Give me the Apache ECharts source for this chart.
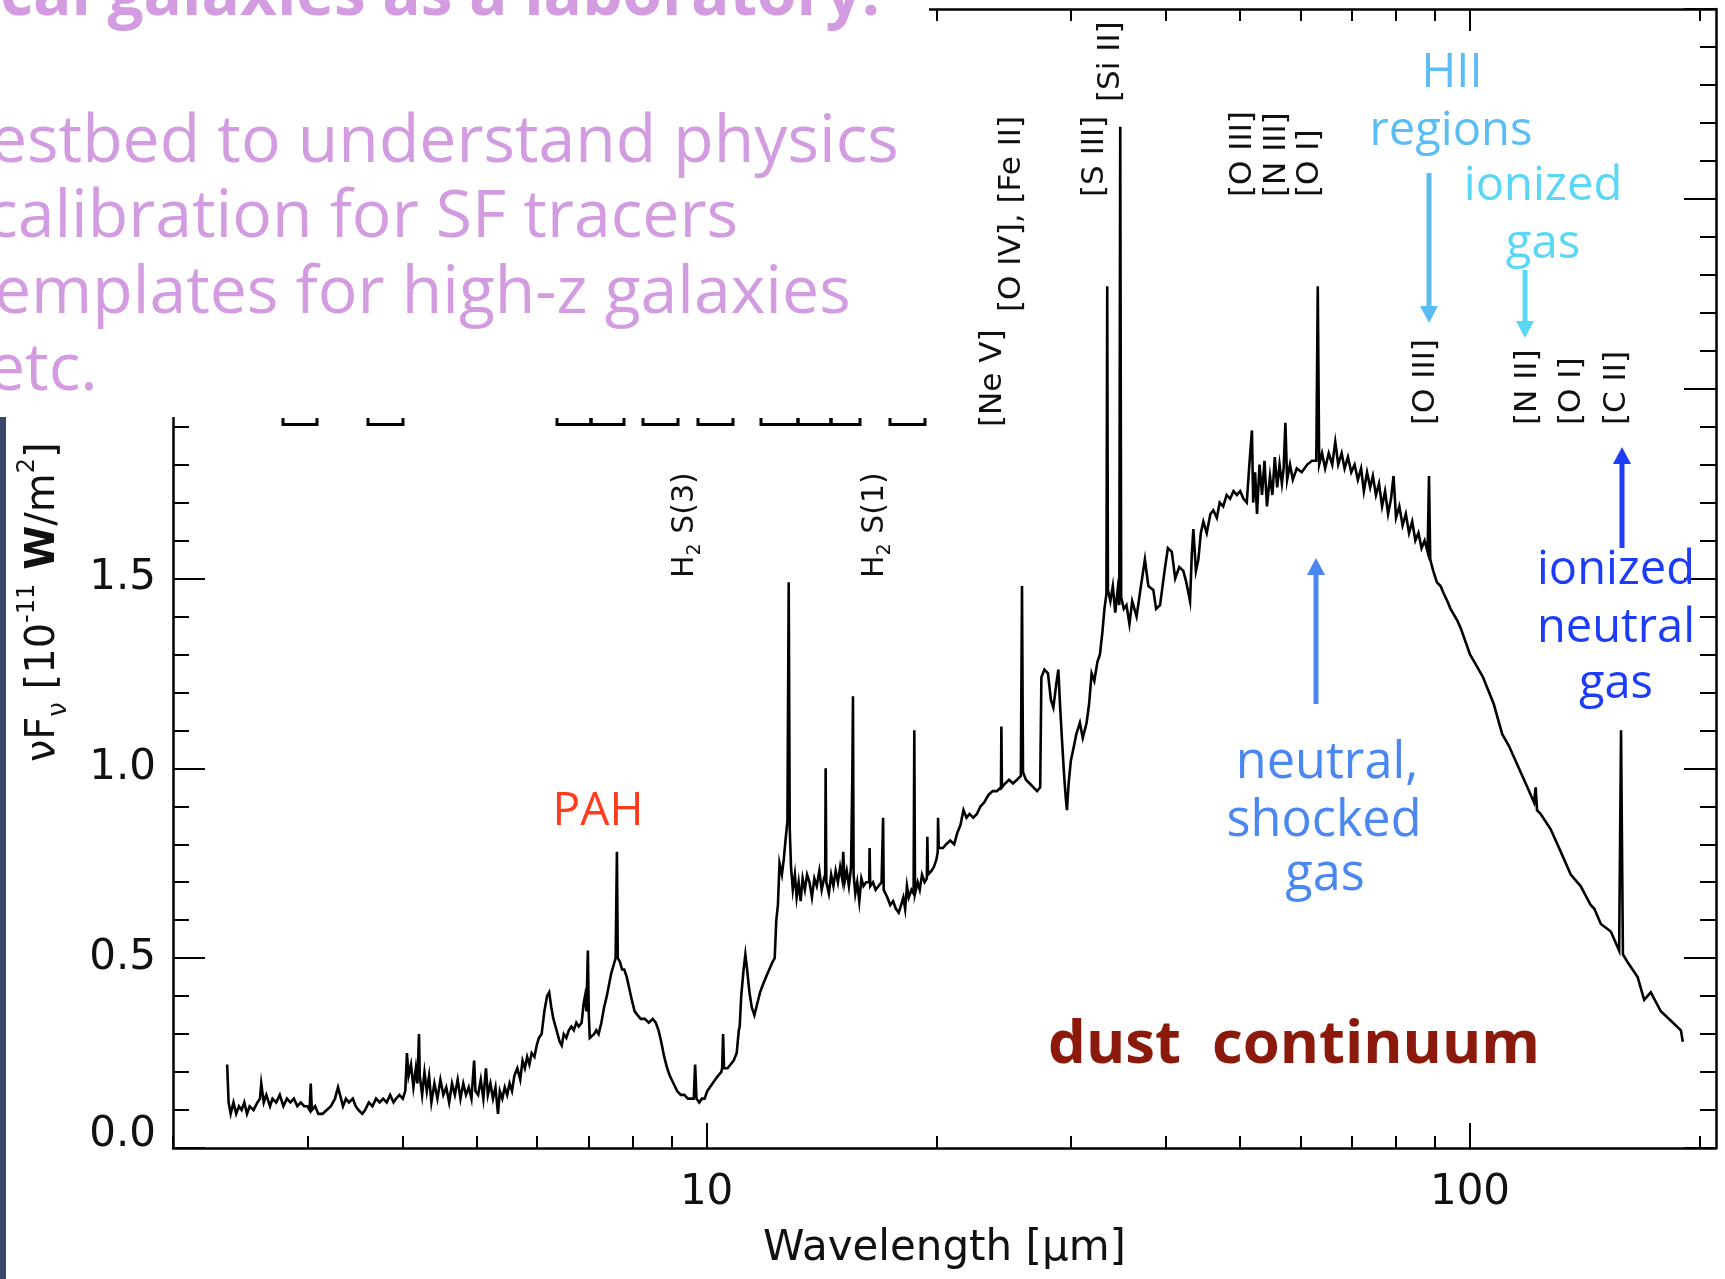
<!DOCTYPE html>
<html><head><meta charset="utf-8">
<script src="https://cdn.jsdelivr.net/npm/echarts@6/dist/echarts.min.js"></script>
<style>html,body{margin:0;padding:0;background:#fff}#c{width:1725px;height:1279px}</style>
</head><body><div id="c"></div>
<script>
// ---------------- DATA (wavelength [um], nuFnu [1e-11 W/m2]) ----------------
const nearIR = [[2.355,0.22],[2.365,0.12],[2.38,0.09],[2.40,0.12],[2.42,0.09],[2.44,0.11],[2.46,0.10],[2.48,0.12],[2.50,0.09],[2.52,0.11],[2.55,0.10],[2.58,0.12],[2.60,0.13],[2.61,0.17],[2.63,0.12],[2.65,0.14],[2.68,0.11],[2.70,0.13],[2.73,0.12],[2.76,0.14],[2.79,0.11],[2.82,0.13],[2.85,0.12],[2.88,0.13],[2.91,0.11],[2.94,0.12],[2.97,0.11],[3.00,0.11],[3.02,0.10],[3.03,0.17],[3.04,0.10],[3.07,0.11],[3.10,0.09],[3.14,0.09],[3.18,0.10],[3.22,0.11],[3.26,0.13],[3.29,0.16],[3.31,0.14],[3.34,0.11],[3.37,0.13],[3.40,0.12],[3.44,0.13],[3.47,0.11],[3.50,0.10],[3.54,0.09],[3.57,0.10],[3.61,0.12],[3.65,0.11],[3.69,0.13],[3.73,0.12],[3.77,0.13],[3.81,0.12],[3.85,0.14],[3.89,0.12],[3.92,0.13],[3.96,0.14],[4.00,0.13],[4.03,0.15]];
const midIRa = [[4.05,0.25],[4.07,0.19],[4.10,0.22],[4.13,0.16],[4.16,0.21],[4.18,0.17],[4.20,0.30],[4.21,0.19],[4.24,0.14],[4.27,0.20],[4.30,0.15],[4.33,0.19],[4.36,0.12],[4.40,0.17],[4.44,0.13],[4.48,0.18],[4.52,0.14],[4.56,0.16],[4.60,0.12],[4.64,0.17],[4.68,0.14],[4.72,0.18],[4.76,0.13],[4.80,0.17],[4.84,0.14],[4.88,0.16],[4.92,0.13],[4.96,0.23],[4.98,0.15],[5.02,0.14],[5.06,0.18],[5.10,0.13],[5.14,0.21],[5.17,0.14],[5.21,0.17],[5.25,0.13],[5.29,0.16],[5.33,0.09],[5.36,0.15],[5.40,0.13],[5.44,0.16],[5.48,0.14],[5.52,0.17],[5.56,0.15],[5.60,0.19],[5.65,0.21],[5.70,0.18],[5.74,0.23],[5.78,0.21],[5.82,0.24],[5.86,0.22],[5.90,0.25],[5.95,0.24],[5.99,0.27],[6.03,0.29],[6.08,0.30],[6.13,0.36],[6.18,0.40],[6.22,0.41],[6.26,0.37],[6.30,0.34],[6.34,0.32],[6.38,0.30],[6.42,0.28],[6.46,0.27],[6.50,0.30],[6.55,0.29],[6.60,0.31],[6.65,0.32],[6.70,0.31],[6.75,0.33],[6.80,0.32],[6.86,0.33],[6.90,0.38],[6.93,0.40],[6.96,0.36],[6.99,0.52],[7.01,0.35],[7.03,0.29],[7.07,0.29],[7.12,0.30],[7.17,0.31],[7.22,0.30],[7.28,0.33],[7.34,0.37],[7.40,0.40],[7.45,0.43],[7.50,0.46],[7.55,0.48],[7.60,0.50],[7.63,0.78],[7.65,0.50],[7.70,0.49],[7.75,0.47],[7.80,0.47],[7.86,0.45],[7.92,0.42],[7.98,0.39],[8.05,0.36],[8.12,0.35],[8.20,0.34],[8.30,0.34],[8.40,0.33],[8.50,0.34],[8.58,0.33],[8.65,0.31],[8.72,0.28],[8.80,0.24],[8.88,0.21],[8.95,0.19],[9.05,0.17],[9.15,0.15],[9.25,0.14],[9.35,0.14],[9.45,0.13],[9.55,0.13],[9.62,0.13],[9.66,0.22],[9.70,0.13],[9.78,0.12],[9.86,0.13],[9.94,0.13]];
const midIRb = [[10.02,0.15],[10.10,0.16],[10.18,0.17],[10.26,0.18],[10.35,0.19],[10.45,0.20],[10.48,0.21],[10.51,0.30],[10.54,0.21],[10.65,0.21],[10.75,0.22],[10.85,0.23],[10.95,0.25],[11.02,0.31],[11.05,0.32],[11.10,0.40],[11.18,0.47],[11.24,0.51],[11.30,0.47],[11.38,0.41],[11.46,0.37],[11.55,0.35],[11.65,0.38],[11.75,0.41],[11.85,0.43],[11.96,0.45],[12.08,0.47],[12.20,0.49],[12.28,0.50],[12.34,0.60],[12.40,0.64],[12.46,0.75],[12.55,0.72],[12.62,0.76],[12.70,0.82],[12.76,0.86],[12.81,1.49],[12.85,0.84],[12.90,0.74],[12.97,0.68],[13.05,0.72],[13.12,0.66],[13.20,0.70],[13.28,0.65],[13.36,0.71],[13.45,0.68],[13.54,0.72],[13.64,0.70],[13.74,0.66],[13.84,0.71],[13.94,0.69],[14.05,0.73],[14.15,0.68],[14.25,0.71],[14.30,0.72],[14.32,1.00],[14.35,0.70],[14.46,0.67],[14.56,0.72],[14.66,0.69],[14.76,0.73],[14.86,0.70],[14.96,0.74],[15.05,0.71],[15.10,0.78],[15.16,0.70],[15.26,0.73],[15.36,0.69],[15.46,0.74],[15.52,0.98],[15.55,1.19],[15.58,0.72],[15.66,0.67],[15.75,0.70],[15.85,0.65],[15.95,0.71],[16.05,0.69],[16.18,0.70],[16.33,0.70],[16.35,0.79],[16.38,0.69],[16.52,0.70],[16.65,0.68],[16.80,0.69],[16.95,0.70],[17.01,0.70],[17.03,0.87],[17.06,0.68],[17.25,0.66],[17.40,0.64],[17.55,0.65],[17.70,0.63],[17.85,0.62],[17.98,0.64],[18.10,0.66],[18.20,0.63],[18.30,0.69],[18.40,0.66],[18.55,0.68],[18.67,0.67],[18.71,1.10],[18.75,0.67],[18.90,0.70],[19.02,0.68],[19.15,0.72],[19.30,0.70],[19.43,0.71],[19.46,0.82],[19.50,0.72],[19.70,0.73],[19.85,0.74],[20.00,0.76],[20.08,0.78],[20.10,0.87],[20.14,0.79],[20.40,0.79],[20.60,0.80],[20.85,0.81],[21.10,0.80],[21.30,0.83],[21.50,0.85],[21.70,0.89],[21.90,0.87],[22.10,0.88],[22.35,0.87],[22.60,0.88],[22.85,0.90],[23.10,0.91],[23.40,0.93],[23.70,0.94],[24.00,0.94],[24.30,0.95],[24.33,1.11],[24.37,0.95],[24.60,0.96],[24.90,0.97],[25.20,0.96],[25.50,0.97],[25.80,0.98],[25.89,1.48],[25.97,0.99],[26.20,0.97],[26.50,0.96],[26.80,0.95],[27.10,0.94],[27.35,0.95],[27.45,1.24],[27.70,1.26],[28.00,1.25],[28.25,1.18],[28.46,1.16],[28.70,1.22],[28.89,1.26],[29.05,1.16],[29.20,1.08],[29.40,0.98],[29.55,0.92],[29.65,0.89],[29.80,0.96],[30.00,1.02],[30.22,1.05],[30.50,1.09],[30.83,1.12],[31.10,1.08],[31.46,1.12],[31.70,1.17],[31.94,1.25],[32.20,1.23],[32.50,1.28],[32.75,1.30],[33.00,1.36],[33.20,1.42],[33.40,1.46]];
const farIR = [[33.48,2.27],[33.55,1.47],[33.80,1.44],[34.05,1.48],[34.30,1.41],[34.55,1.47],[34.72,1.43],[34.82,2.69],[34.92,1.45],[35.20,1.42],[35.48,1.43],[35.80,1.38],[36.10,1.44],[36.58,1.40],[37.00,1.47],[37.51,1.55],[37.90,1.48],[38.47,1.47],[38.80,1.42],[39.26,1.43],[39.80,1.52],[40.20,1.58],[40.68,1.57],[41.10,1.50],[41.60,1.53],[42.12,1.52],[42.50,1.49],[42.98,1.44],[43.20,1.56],[43.41,1.63],[43.75,1.52],[44.07,1.55],[44.40,1.62],[44.74,1.65],[45.20,1.62],[45.70,1.67],[46.10,1.68],[46.60,1.66],[47.00,1.70],[47.50,1.69],[48.00,1.72],[48.50,1.71],[49.00,1.73],[49.50,1.72],[50.00,1.73],[50.50,1.71],[51.00,1.70],[51.40,1.80],[51.80,1.89],[52.00,1.70],[52.30,1.78],[52.60,1.67],[53.00,1.80],[53.40,1.72],[53.80,1.81],[54.20,1.69],[54.70,1.77],[55.10,1.72],[55.50,1.82],[55.90,1.74],[56.30,1.80],[56.70,1.75],[57.00,1.79],[57.30,1.91],[57.60,1.76],[58.10,1.80],[58.60,1.76],[59.30,1.79],[60.20,1.78],[61.20,1.80],[62.10,1.81],[62.90,1.81],[63.18,2.27],[63.45,1.80],[64.00,1.83],[64.60,1.79],[65.30,1.83],[66.00,1.80],[66.60,1.86],[67.20,1.80],[67.90,1.83],[68.50,1.79],[69.20,1.82],[69.90,1.78],[70.60,1.80],[71.30,1.76],[72.00,1.79],[72.60,1.73],[73.30,1.78],[74.00,1.74],[74.60,1.77],[75.30,1.72],[76.00,1.75],[76.70,1.69],[77.40,1.73],[78.10,1.67],[78.80,1.71],[79.40,1.77],[80.00,1.66],[80.80,1.69],[81.60,1.64],[82.40,1.67],[83.20,1.62],[84.00,1.65],[84.80,1.60],[85.60,1.62],[86.40,1.58],[87.20,1.60],[88.00,1.57],[88.36,1.77],[88.70,1.55],[89.50,1.52],[90.50,1.49],[91.50,1.48],[92.40,1.46],[93.40,1.44],[94.30,1.42],[96.20,1.39],[97.20,1.37],[100.0,1.30],[102.0,1.27],[104.0,1.24],[107.4,1.17],[110.2,1.09],[112.4,1.06],[115.3,1.01],[118.9,0.95],[121.3,0.91],[121.9,0.95],[122.4,0.89],[123.7,0.88],[127.5,0.84],[131.5,0.78],[135.5,0.72],[139.6,0.69],[143.9,0.64],[145.5,0.63],[148.4,0.59],[152.9,0.57],[156.8,0.52],[157.7,1.10],[158.6,0.51],[160.8,0.49],[165.8,0.45],[169.1,0.39],[172.5,0.41],[177.8,0.36],[183.3,0.335],[188.9,0.31],[190.0,0.28]];

const xMajorTicks = [10, 100];
const xMinorTicks = [2, 3, 4, 5, 6, 7, 8, 9, 20, 30, 40, 50, 60, 70, 80, 90, 200];
const xRange = [2, 210];
const yRange = [0, 3];
const yStep = 0.5;

const bulletLines = ['estbed to understand physics', 'calibration for SF tracers', 'emplates for high-z galaxies', 'etc.'];
const titleText = 'Local galaxies as a laboratory:';
const lineIds = ['[Ne V]', '[O IV], [Fe II]', '[S III]', '[Si II]', '[O III]', '[N III]', '[O I]', '[O III]', '[N II]', '[O I]', '[C II]'];

// ---------------- helpers ----------------
const mctx = document.createElement('canvas').getContext('2d');
function fitSize(text, weight, family, width) {
  mctx.font = weight + ' 100px "' + family + '"';
  return 100 * width / mctx.measureText(text).width;
}
function midOffset(weight, size, family) {
  mctx.font = weight + ' ' + size + 'px "' + family + '"';
  mctx.textBaseline = 'alphabetic';
  const a = mctx.measureText('Hg').fontBoundingBoxAscent;
  mctx.textBaseline = 'middle';
  const b = mctx.measureText('Hg').fontBoundingBoxAscent;
  mctx.textBaseline = 'alphabetic';
  return a - b;
}
const SANS = 'Open Sans';
function label(text, x, base, size, color, weight, align) {
  weight = weight || 'normal';
  return {
    type: 'text', x: x, y: base - midOffset(weight, size, SANS), z: 120, silent: true,
    style: { text: text, fill: color, fontSize: size, fontFamily: SANS, fontWeight: weight,
      align: align || 'center', verticalAlign: 'middle', textAlign: align || 'center', textVerticalAlign: 'middle' }
  };
}
function vlabel(text, x, yStart, size, rich) {
  return {
    type: 'text', x: x, y: yStart, rotation: Math.PI / 2, z: 120, silent: true,
    style: { text: text, fill: '#111', fontSize: size, fontFamily: 'DejaVu Sans',
      align: 'left', verticalAlign: 'middle', textAlign: 'left', textVerticalAlign: 'middle', rich: rich }
  };
}
function arrow(x, y0, y1, color) {
  const dir = y1 > y0 ? 1 : -1;
  const hl = 17, hw = 9;
  return [
    { type: 'line', z: 120, silent: true, shape: { x1: x, y1: y0, x2: x, y2: y1 - dir * hl }, style: { stroke: color, lineWidth: 5 } },
    { type: 'polygon', z: 120, silent: true, shape: { points: [[x - hw, y1 - dir * hl], [x + hw, y1 - dir * hl], [x, y1]] }, style: { fill: color } }
  ];
}

// ---------------- chart ----------------
const spectrum = [].concat(nearIR, midIRa, midIRb, farIR);
const axisColor = '#000';
const tickFont = { fontSize: 42, fontFamily: 'DejaVu Sans', color: '#111' };

function xAx(pos, ticks, len, showLine, labelOpt) {
  return {
    type: 'log', logBase: 10, min: xRange[0], max: xRange[1], position: pos,
    axisLine: { show: showLine, lineStyle: { color: axisColor, width: 2.5 } },
    axisTick: { show: true, inside: true, length: len, customValues: ticks, lineStyle: { color: axisColor, width: 2 } },
    axisLabel: labelOpt || { show: false },
    splitLine: { show: false }, minorTick: { show: false }, minorSplitLine: { show: false }
  };
}
function yAx(pos, showLabel) {
  return {
    type: 'value', min: yRange[0], max: yRange[1], interval: yStep, position: pos,
    axisLine: { show: true, lineStyle: { color: axisColor, width: 2.5 } },
    axisTick: { show: true, inside: true, length: 32, lineStyle: { color: axisColor, width: 2 } },
    minorTick: { show: true, splitNumber: 5, length: 16, lineStyle: { color: axisColor, width: 2 } },
    splitLine: { show: false }, minorSplitLine: { show: false },
    axisLabel: showLabel ? Object.assign({
      show: true, margin: 17,
      formatter: v => v === 0 ? '{z|0.0}' : v.toFixed(1),
      rich: { z: { fontSize: 42, fontFamily: 'DejaVu Sans', color: '#111', padding: [0, 0, 26, 0] } }
    }, tickFont) : { show: false }
  };
}

const chart = echarts.init(document.getElementById('c'), null, { renderer: 'canvas' });

const purple = '#d39be0';
const bulletSize = fitSize(bulletLines[0], 'normal', SANS, 909);
const titleSize = fitSize('cal galaxies as a laboratory:', 'bold', SANS, 880);
const hiiSize = fitSize('regions', 'normal', SANS, 163);
const shockSize = fitSize('shocked', 'normal', SANS, 195);
const pdrSize = fitSize('neutral', 'normal', SANS, 158);
const pahSize = fitSize('PAH', 'normal', SANS, 91);
const dustSize = fitSize('dust  continuum', 'bold', SANS, 492);

const cHII = '#5bbdf6', cIon = '#5ad6f7', cNeu = '#4b87f0', cPdr = '#1c3cf5', cPah = '#ff3c1c', cDust = '#8c1a0c';

const graphics = [
  { type: 'rect', z: 100, silent: true, shape: { x: 0, y: 0, width: 929, height: 417 }, style: { fill: '#fff' } },
  { type: 'rect', z: 100, silent: true, shape: { x: 0, y: 417, width: 6, height: 862 }, style: { fill: '#3a4870' } },
  label(titleText, 880, 15, titleSize, purple, 'bold', 'right'),
  label(bulletLines[0], -10, 162, bulletSize, purple, 'normal', 'left'),
  label(bulletLines[1], -14, 237, bulletSize, purple, 'normal', 'left'),
  label(bulletLines[2], -6, 313, bulletSize, purple, 'normal', 'left'),
  label(bulletLines[3], -12, 390, bulletSize, purple, 'normal', 'left'),
  label('HII', 1452, 87, hiiSize, cHII),
  label('regions', 1451, 145, hiiSize, cHII),
  label('ionized', 1543, 200, hiiSize, cIon),
  label('gas', 1543, 258, hiiSize, cIon),
  label('neutral,', 1327, 778, shockSize, cNeu),
  label('shocked', 1324, 836, shockSize, cNeu),
  label('gas', 1325, 890, shockSize, cNeu),
  label('ionized', 1616, 584, pdrSize, cPdr),
  label('neutral', 1616, 642, pdrSize, cPdr),
  label('gas', 1616, 698, pdrSize, cPdr),
  label('PAH', 598, 825, pahSize, cPah),
  label('dust  continuum', 1294, 1063, dustSize, cDust, 'bold'),
  ...arrow(1429, 173, 323, cHII),
  ...arrow(1525, 270, 338, cIon),
  ...arrow(1316, 704, 558, cNeu),
  ...arrow(1622, 548, 447, cPdr),
  vlabel(lineIds[0], 993, 427, 31),
  vlabel(lineIds[1], 1012, 312, 31),
  vlabel(lineIds[2], 1095, 197, 31),
  vlabel(lineIds[3], 1111, 102, 31),
  vlabel(lineIds[4], 1243, 197, 31),
  vlabel(lineIds[5], 1277, 197, 31),
  vlabel(lineIds[6], 1310, 197, 31),
  vlabel(lineIds[7], 1426, 425, 31),
  vlabel(lineIds[8], 1528, 425, 31),
  vlabel(lineIds[9], 1572, 425, 31),
  vlabel(lineIds[10], 1617, 425, 31),
  vlabel('{a|H}{s|2}{a| S(3)}', 685, 578, 30, { a: { fontSize: 30, fontFamily: 'DejaVu Sans', fill: '#111', lineHeight: 40, verticalAlign: 'middle' }, s: { fontSize: 19, fontFamily: 'DejaVu Sans', fill: '#111', lineHeight: 40, verticalAlign: 'bottom' } }),
  vlabel('{a|H}{s|2}{a| S(1)}', 875, 578, 30, { a: { fontSize: 30, fontFamily: 'DejaVu Sans', fill: '#111', lineHeight: 40, verticalAlign: 'middle' }, s: { fontSize: 19, fontFamily: 'DejaVu Sans', fill: '#111', lineHeight: 40, verticalAlign: 'bottom' } }),
  vlabel('{a|νF}{s|ν}{a| [10}{p|-11}{b| W}{a|/m}{p|2}{a|]}', 44, 762, 40, {
    a: { fontSize: 40, fontFamily: 'DejaVu Sans', fill: '#111', lineHeight: 56, verticalAlign: 'middle' },
    b: { fontSize: 40, fontFamily: 'DejaVu Sans', fontWeight: 'bold', fill: '#111', lineHeight: 56, verticalAlign: 'middle' },
    s: { fontSize: 26, fontFamily: 'DejaVu Sans', fill: '#111', lineHeight: 56, verticalAlign: 'bottom' },
    p: { fontSize: 24, fontFamily: 'DejaVu Sans', fill: '#111', lineHeight: 56, verticalAlign: 'top' }
  })
];
// bracket stubs peeking below the white panel
const stubs = [[283, 317], [368, 403], [557, 591], [591, 624], [643, 678], [698, 733], [761, 798], [798, 831], [831, 860], [890, 925]];
stubs.forEach(s => graphics.push({ type: 'polyline', z: 110, silent: true,
  shape: { points: [[s[0], 418], [s[0], 424.5], [s[1], 424.5], [s[1], 418]] },
  style: { stroke: '#000', lineWidth: 3, fill: null } }));

chart.setOption({
  animation: false,
  backgroundColor: '#fff',
  grid: { left: 173, right: 9, top: 9, bottom: 131, containLabel: false, outerBoundsMode: 'none' },
  xAxis: [
    xAx('bottom', xMinorTicks, 12, true, Object.assign({ show: true, margin: 24, customValues: xMajorTicks, formatter: v => String(Math.round(v)) }, tickFont)),
    xAx('bottom', xMajorTicks, 25, false),
    xAx('top', xMinorTicks, 12, true),
    xAx('top', xMajorTicks, 22, false)
  ],
  yAxis: [yAx('left', true), yAx('right', false)],
  series: [{
    type: 'line', xAxisIndex: 0, yAxisIndex: 0, data: spectrum, symbol: 'none', showSymbol: false,
    lineStyle: { color: '#000', width: 2.6, join: 'miter' }, z: 3
  }],
  graphic: { elements: graphics }
});
chart.setOption({ xAxis: [{ name: 'Wavelength [μm]', nameLocation: 'middle', nameGap: 80,
  nameTextStyle: { fontSize: 42, fontFamily: 'DejaVu Sans', color: '#111' } }] });
</script></body></html>
